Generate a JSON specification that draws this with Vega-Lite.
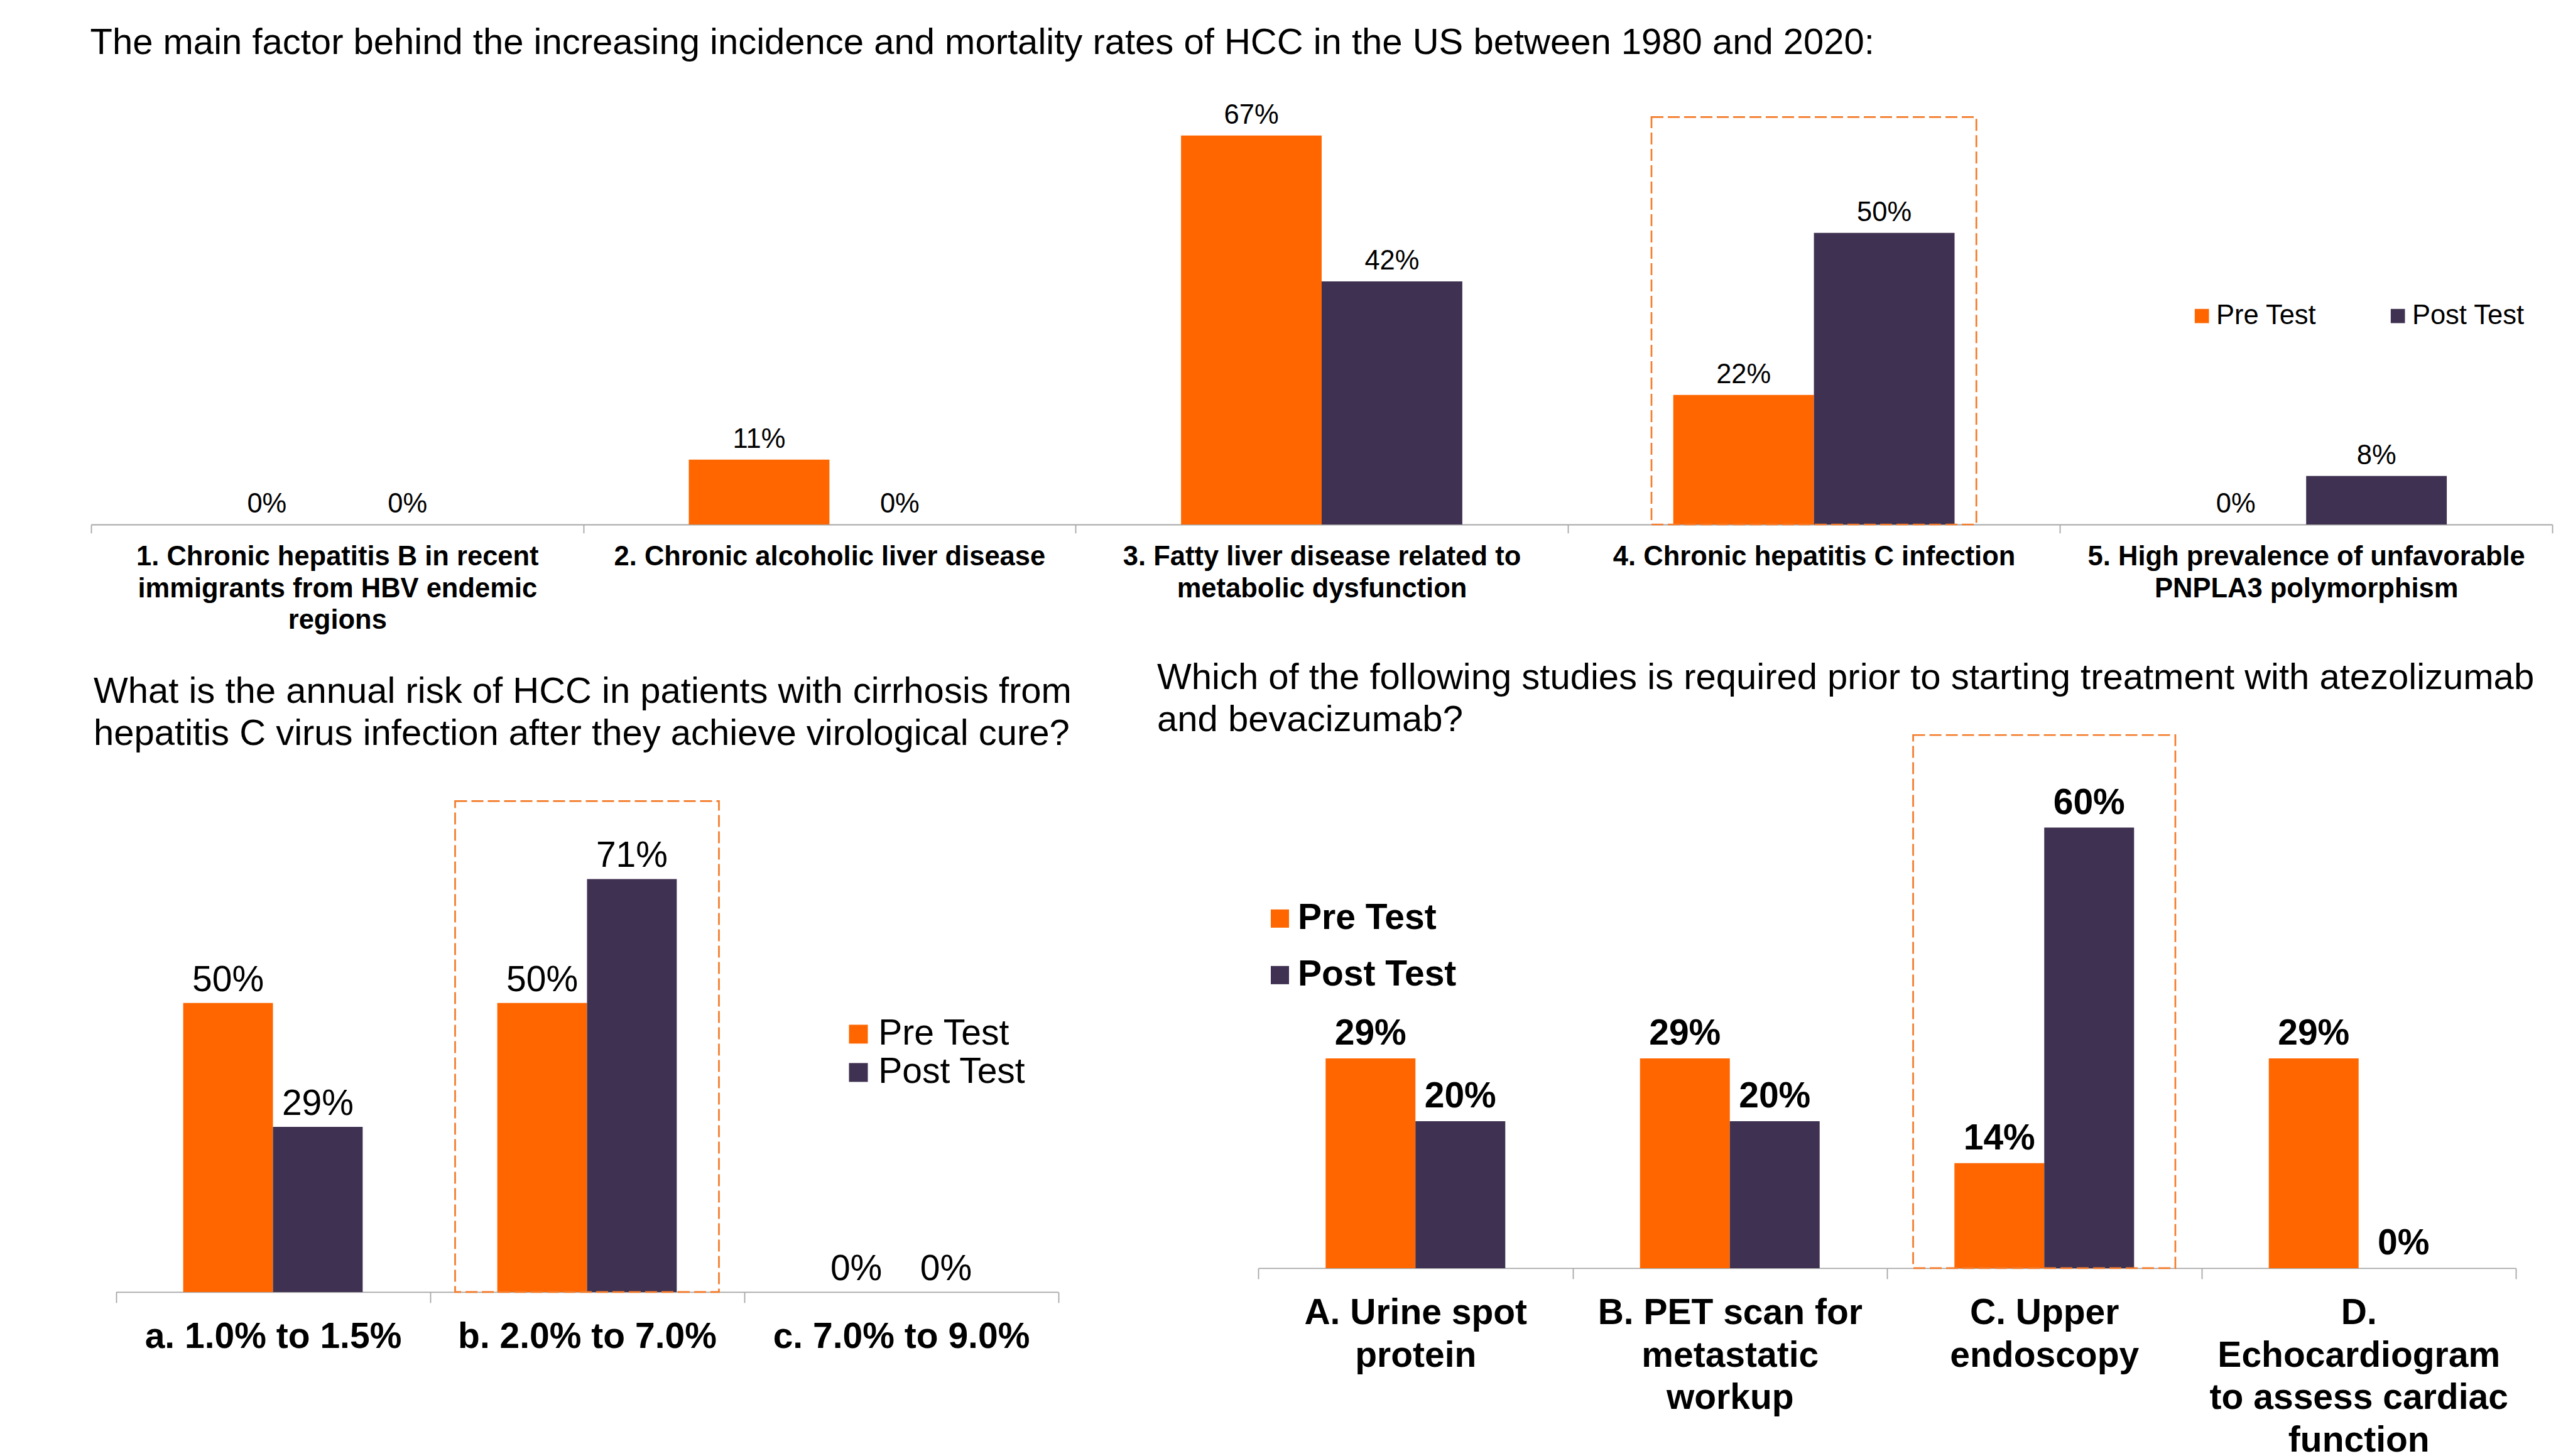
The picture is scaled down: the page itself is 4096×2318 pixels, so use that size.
{
  "$schema": "https://vega.github.io/schema/vega-lite/v6.json",
  "background": "white",
  "padding": {"left": 143, "top": 40, "right": 38, "bottom": 0},
  "config": {
    "font": "Liberation Sans",
    "view": {"stroke": null},
    "axis": {"grid": false},
    "legend": {"padding": 0, "offset": 0},
    "title": {"color": "#000000", "fontWeight": "normal", "anchor": "start", "frame": "group"}
  },
  "resolve": {"scale": {"color": "independent", "xOffset": "independent"}, "legend": {"color": "independent"}},
  "columns": 1,
  "bounds": "flush",
  "spacing": 334.9,
  "concat": [
    {
      "width": 3918,
      "height": 669,
      "title": {"text": "The main factor behind the increasing incidence and mortality rates of HCC in the US between 1980 and 2020:", "fontSize": 58, "dx": -1.5, "offset": 63.4},
      "data": {"values": [
        {"cat": "1. Chronic hepatitis B in recent|immigrants from HBV endemic|regions", "test": "Pre Test", "share": 0},
        {"cat": "1. Chronic hepatitis B in recent|immigrants from HBV endemic|regions", "test": "Post Test", "share": 0},
        {"cat": "2. Chronic alcoholic liver disease", "test": "Pre Test", "share": 0.1111},
        {"cat": "2. Chronic alcoholic liver disease", "test": "Post Test", "share": 0},
        {"cat": "3. Fatty liver disease related to|metabolic dysfunction", "test": "Pre Test", "share": 0.6667},
        {"cat": "3. Fatty liver disease related to|metabolic dysfunction", "test": "Post Test", "share": 0.4167},
        {"cat": "4. Chronic hepatitis C infection", "test": "Pre Test", "share": 0.2222},
        {"cat": "4. Chronic hepatitis C infection", "test": "Post Test", "share": 0.5},
        {"cat": "5. High prevalence of unfavorable|PNPLA3 polymorphism", "test": "Pre Test", "share": 0},
        {"cat": "5. High prevalence of unfavorable|PNPLA3 polymorphism", "test": "Post Test", "share": 0.0833}
      ]},
      "layer": [
        {
          "mark": {"type": "bar"},
          "encoding": {
            "x": {"field": "cat", "type": "nominal", "scale": {"paddingInner": 0, "paddingOuter": 0},
              "axis": {"title": null, "labelAngle": 0, "labelExpr": "split(datum.label, '|')", "labelFontSize": 43.5, "labelFontWeight": "bold", "labelColor": "#000000", "labelLineHeight": 50.7, "labelPadding": 17, "labelLimit": 0, "labelOverlap": false, "tickBand": "extent", "tickSize": 13.6, "tickColor": "#a6a6a6", "tickWidth": 1.8, "domainColor": "#a6a6a6", "domainWidth": 1.8}},
            "xOffset": {"field": "test", "type": "nominal", "sort": ["Pre Test", "Post Test"], "scale": {"paddingInner": 0, "paddingOuter": 0.75}},
            "y": {"field": "share", "type": "quantitative", "scale": {"domain": [0, 0.7204], "nice": false}, "axis": null},
            "color": {"field": "test", "type": "nominal", "sort": ["Pre Test", "Post Test"], "scale": {"domain": ["Pre Test", "Post Test"], "range": ["#FF6600", "#3F3151"]},
              "legend": {"title": null, "orient": "none", "legendX": 3338.4, "legendY": 315, "direction": "horizontal", "symbolType": "square", "symbolSize": 512, "symbolStrokeWidth": 0, "labelFontSize": 43.5, "labelColor": "#000000", "labelOffset": 1, "columnPadding": 107, "labelLimit": 0}}
          }
        },
        {
          "mark": {"type": "text", "baseline": "alphabetic", "align": "center", "dy": -19, "fontSize": 43.5, "color": "#000000"},
          "encoding": {
            "x": {"field": "cat", "type": "nominal"},
            "xOffset": {"field": "test", "type": "nominal", "sort": ["Pre Test", "Post Test"]},
            "y": {"field": "share", "type": "quantitative", "axis": null},
            "text": {"field": "share", "type": "quantitative", "format": ".0%"}
          }
        },
        {
          "data": {"values": [{"cat": "4. Chronic hepatitis C infection", "top": 0.6985}]},
          "mark": {"type": "bar", "filled": false, "stroke": "#F47B2A", "strokeWidth": 2.7, "strokeDash": [19, 7], "width": {"band": 0.66}},
          "encoding": {
            "x": {"field": "cat", "type": "nominal"},
            "y": {"field": "top", "type": "quantitative", "axis": null},
            "y2": {"datum": 0}
          }
        }
      ]
    },
    {
      "hconcat": [
        {
          "width": 1539.5,
          "height": 887,
          "title": {"text": ["What is the annual risk of HCC in patients with cirrhosis from", "hepatitis C virus infection after they achieve virological cure?"], "fontSize": 58, "lineHeight": 67, "dx": 4, "offset": -28},
          "data": {"values": [
            {"cat": "a. 1.0% to 1.5%", "test": "Pre Test", "share": 0.5},
            {"cat": "a. 1.0% to 1.5%", "test": "Post Test", "share": 0.2857},
            {"cat": "b. 2.0% to 7.0%", "test": "Pre Test", "share": 0.5},
            {"cat": "b. 2.0% to 7.0%", "test": "Post Test", "share": 0.7143},
            {"cat": "c. 7.0% to 9.0%", "test": "Pre Test", "share": 0},
            {"cat": "c. 7.0% to 9.0%", "test": "Post Test", "share": 0}
          ]},
          "layer": [
            {
              "mark": {"type": "bar"},
              "encoding": {
                "x": {"field": "cat", "type": "nominal", "scale": {"paddingInner": 0, "paddingOuter": 0, "range": [39.5, 1539.5]},
                  "axis": {"title": null, "labelAngle": 0, "labelExpr": "split(datum.label, '|')", "labelFontSize": 57, "labelFontWeight": "bold", "labelColor": "#000000", "labelLineHeight": 67.5, "labelPadding": 27, "labelLimit": 0, "labelOverlap": false, "tickBand": "extent", "tickSize": 17, "tickColor": "#a6a6a6", "tickWidth": 1.8, "domainColor": "#a6a6a6", "domainWidth": 1.8}},
                "xOffset": {"field": "test", "type": "nominal", "sort": ["Pre Test", "Post Test"], "scale": {"paddingInner": 0, "paddingOuter": 0.75}},
                "y": {"field": "share", "type": "quantitative", "scale": {"domain": [0, 0.9636], "nice": false}, "axis": null},
                "color": {"field": "test", "type": "nominal", "sort": ["Pre Test", "Post Test"], "scale": {"domain": ["Pre Test", "Post Test"], "range": ["#FF6600", "#3F3151"]},
                  "legend": {"title": null, "orient": "none", "legendX": 1193, "legendY": 448, "direction": "vertical", "symbolType": "square", "symbolSize": 900, "symbolStrokeWidth": 0, "labelFontSize": 57, "labelColor": "#000000", "labelOffset": 3.3, "rowPadding": 3, "labelLimit": 0}}
              }
            },
            {
              "mark": {"type": "text", "baseline": "alphabetic", "align": "center", "dy": -19, "fontSize": 57, "color": "#000000"},
              "encoding": {
                "x": {"field": "cat", "type": "nominal"},
                "xOffset": {"field": "test", "type": "nominal", "sort": ["Pre Test", "Post Test"]},
                "y": {"field": "share", "type": "quantitative", "axis": null},
                "text": {"field": "share", "type": "quantitative", "format": ".0%"}
              }
            },
            {
              "data": {"values": [{"cat": "b. 2.0% to 7.0%", "top": 0.849}]},
              "mark": {"type": "bar", "filled": false, "stroke": "#F47B2A", "strokeWidth": 2.7, "strokeDash": [19, 7], "width": {"band": 0.84}},
              "encoding": {
                "x": {"field": "cat", "type": "nominal"},
                "y": {"field": "top", "type": "quantitative", "axis": null},
                "y2": {"datum": 0}
              }
            }
          ]
        },
        {
          "width": 2002,
          "height": 849,
          "title": {"text": ["Which of the following studies is required prior to starting treatment with atezolizumab", "and bevacizumab?"], "fontSize": 58, "lineHeight": 67, "dx": -161, "offset": -7},
          "data": {"values": [
            {"cat": "A. Urine spot|protein", "test": "Pre Test", "share": 0.2857},
            {"cat": "A. Urine spot|protein", "test": "Post Test", "share": 0.2},
            {"cat": "B. PET scan for|metastatic|workup", "test": "Pre Test", "share": 0.2857},
            {"cat": "B. PET scan for|metastatic|workup", "test": "Post Test", "share": 0.2},
            {"cat": "C. Upper|endoscopy", "test": "Pre Test", "share": 0.1429},
            {"cat": "C. Upper|endoscopy", "test": "Post Test", "share": 0.6},
            {"cat": "D.|Echocardiogram|to assess cardiac|function", "test": "Pre Test", "share": 0.2857},
            {"cat": "D.|Echocardiogram|to assess cardiac|function", "test": "Post Test", "share": 0}
          ]},
          "layer": [
            {
              "mark": {"type": "bar"},
              "encoding": {
                "x": {"field": "cat", "type": "nominal", "scale": {"paddingInner": 0, "paddingOuter": 0},
                  "axis": {"title": null, "labelAngle": 0, "labelExpr": "split(datum.label, '|')", "labelFontSize": 57, "labelFontWeight": "bold", "labelColor": "#000000", "labelLineHeight": 67.5, "labelPadding": 27, "labelLimit": 0, "labelOverlap": false, "tickBand": "extent", "tickSize": 17, "tickColor": "#a6a6a6", "tickWidth": 1.8, "domainColor": "#a6a6a6", "domainWidth": 1.8}},
                "xOffset": {"field": "test", "type": "nominal", "sort": ["Pre Test", "Post Test"], "scale": {"paddingInner": 0, "paddingOuter": 0.75}},
                "y": {"field": "share", "type": "quantitative", "scale": {"domain": [0, 0.7263], "nice": false}, "axis": null},
                "color": {"field": "test", "type": "nominal", "sort": ["Pre Test", "Post Test"], "scale": {"domain": ["Pre Test", "Post Test"], "range": ["#FF6600", "#3F3151"]},
                  "legend": {"title": null, "orient": "none", "legendX": 6, "legendY": 264, "direction": "vertical", "symbolType": "square", "symbolSize": 841, "symbolStrokeWidth": 0, "labelFontSize": 57, "labelFontWeight": "bold", "labelColor": "#000000", "labelOffset": 0, "rowPadding": 32, "labelLimit": 0}}
              }
            },
            {
              "mark": {"type": "text", "baseline": "alphabetic", "align": "center", "dy": -22, "fontSize": 57, "fontWeight": "bold", "color": "#000000"},
              "encoding": {
                "x": {"field": "cat", "type": "nominal"},
                "xOffset": {"field": "test", "type": "nominal", "sort": ["Pre Test", "Post Test"]},
                "y": {"field": "share", "type": "quantitative", "axis": null},
                "text": {"field": "share", "type": "quantitative", "format": ".0%"}
              }
            },
            {
              "data": {"values": [{"cat": "C. Upper|endoscopy", "top": 0.726}]},
              "mark": {"type": "bar", "filled": false, "stroke": "#F47B2A", "strokeWidth": 2.7, "strokeDash": [19, 7], "width": {"band": 0.834}},
              "encoding": {
                "x": {"field": "cat", "type": "nominal"},
                "y": {"field": "top", "type": "quantitative", "axis": null},
                "y2": {"datum": 0}
              }
            }
          ]
        }
      ],
      "bounds": "flush",
      "spacing": 318,
      "resolve": {"scale": {"color": "independent", "xOffset": "independent"}, "legend": {"color": "independent"}}
    }
  ]
}
